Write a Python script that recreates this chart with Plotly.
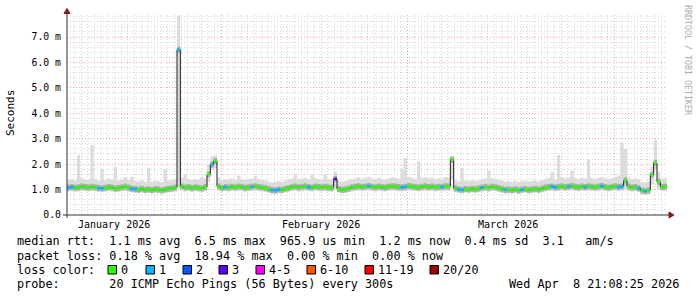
import plotly.graph_objects as go
from datetime import datetime, timedelta

# ---------------- data ----------------
START = datetime(2026, 1, 8, 21, 8, 25)
END = datetime(2026, 4, 8, 21, 8, 25)
STEP_HOURS = 12

median_ms = [
    1.08, 1.10, 1.07, 1.09, 1.12, 1.10, 1.08, 1.11, 1.09, 1.06,
    1.05, 1.07, 1.10, 1.08, 1.04, 1.06, 1.09, 1.12, 1.07, 1.03,
    1.02, 1.00, 1.03, 0.99, 1.01, 0.98, 1.02, 1.00, 0.97, 1.01,
    1.03, 1.05, 1.08, 6.50, 1.12, 1.08, 1.10, 1.06, 1.09, 1.07,
    1.05, 1.10, 1.60, 1.98, 2.12, 1.12, 1.06, 1.10, 1.08, 1.11,
    1.09, 1.12, 1.10, 1.07, 1.09, 1.11, 1.13, 1.10, 1.08, 1.06,
    1.02, 0.98, 0.97, 1.00, 0.99, 1.03, 1.06, 1.10, 1.12, 1.09,
    1.11, 1.13, 1.10, 1.08, 1.12, 1.10, 1.09, 1.11, 1.08, 1.07,
    1.42, 1.02, 0.99, 1.01, 1.04, 1.09, 1.11, 1.13, 1.10, 1.12,
    1.14, 1.11, 1.09, 1.12, 1.10, 1.08, 1.11, 1.13, 1.12, 1.10,
    1.09, 1.11, 1.14, 1.12, 1.10, 1.08, 1.11, 1.13, 1.10, 1.12,
    1.09, 1.11, 1.10, 1.13, 1.12, 2.18, 1.05, 1.01, 0.99, 1.02,
    1.00, 1.03, 1.01, 1.04, 1.08, 1.10, 1.07, 1.11, 1.09, 1.06,
    1.02, 0.99, 1.00, 0.98, 1.01, 0.97, 1.00, 1.02, 0.99, 1.01,
    1.03, 1.00, 1.04, 1.08, 1.10, 1.12, 1.09, 1.11, 1.13, 1.10,
    1.12, 1.14, 1.11, 1.09, 1.12, 1.10, 1.13, 1.11, 1.09, 1.12,
    1.14, 1.10, 1.08, 1.11, 1.13, 1.10, 1.12, 1.36, 1.12, 1.08,
    1.10, 1.06, 0.96, 0.94, 0.97, 1.58, 2.05, 1.30, 1.10, 1.12,
]

# loss colour level per step (index into loss_colors)
loss_level = [
    1, 1, 0, 0, 0, 0, 0, 0, 0, 1,
    1, 0, 0, 0, 0, 0, 0, 0, 0, 1,
    1, 0, 0, 0, 0, 0, 0, 0, 0, 0,
    0, 0, 0, 1, 0, 0, 0, 0, 0, 0,
    0, 0, 0, 1, 0, 0, 0, 1, 0, 0,
    0, 0, 0, 0, 0, 1, 0, 0, 0, 0,
    0, 1, 1, 1, 0, 0, 0, 0, 0, 0,
    0, 0, 1, 0, 0, 0, 0, 0, 0, 0,
    3, 0, 0, 0, 0, 0, 0, 0, 0, 0,
    1, 0, 0, 0, 0, 0, 0, 0, 0, 0,
    1, 1, 0, 0, 0, 0, 0, 0, 0, 0,
    0, 0, 1, 0, 0, 0, 0, 1, 1, 0,
    0, 0, 0, 0, 1, 0, 0, 0, 0, 0,
    0, 1, 0, 0, 0, 0, 1, 0, 0, 0,
    0, 0, 0, 0, 0, 1, 1, 0, 0, 0,
    1, 0, 0, 0, 0, 1, 0, 0, 0, 0,
    1, 0, 0, 0, 0, 1, 1, 0, 0, 0,
    0, 1, 0, 1, 0, 0, 0, 0, 0, 0,
]

smoke_min_ms = [
    0.92, 0.93, 0.91, 0.92, 0.94, 0.93, 0.92, 0.94, 0.92, 0.90,
    0.90, 0.91, 0.93, 0.92, 0.89, 0.90, 0.92, 0.94, 0.91, 0.88,
    0.87, 0.86, 0.88, 0.85, 0.87, 0.85, 0.87, 0.86, 0.84, 0.87,
    0.88, 0.90, 0.92, 1.05, 0.95, 0.92, 0.93, 0.90, 0.92, 0.91,
    0.90, 0.93, 1.30, 1.75, 1.85, 0.95, 0.91, 0.93, 0.92, 0.94,
    0.93, 0.95, 0.93, 0.91, 0.93, 0.94, 0.95, 0.93, 0.92, 0.90,
    0.87, 0.84, 0.83, 0.86, 0.85, 0.88, 0.90, 0.93, 0.95, 0.92,
    0.94, 0.95, 0.93, 0.92, 0.95, 0.93, 0.92, 0.94, 0.92, 0.91,
    1.00, 0.88, 0.85, 0.87, 0.89, 0.92, 0.94, 0.95, 0.93, 0.95,
    0.96, 0.94, 0.92, 0.95, 0.93, 0.92, 0.94, 0.95, 0.95, 0.93,
    0.92, 0.94, 0.96, 0.95, 0.93, 0.92, 0.94, 0.95, 0.93, 0.95,
    0.92, 0.94, 0.93, 0.95, 0.95, 1.40, 0.90, 0.87, 0.85, 0.88,
    0.86, 0.89, 0.87, 0.89, 0.92, 0.94, 0.91, 0.94, 0.93, 0.90,
    0.87, 0.85, 0.86, 0.84, 0.87, 0.83, 0.86, 0.88, 0.85, 0.87,
    0.88, 0.86, 0.89, 0.92, 0.94, 0.95, 0.93, 0.94, 0.96, 0.94,
    0.95, 0.96, 0.94, 0.93, 0.95, 0.94, 0.96, 0.94, 0.93, 0.95,
    0.96, 0.94, 0.92, 0.94, 0.96, 0.93, 0.95, 1.00, 0.95, 0.92,
    0.93, 0.90, 0.82, 0.80, 0.83, 1.20, 1.75, 1.00, 0.93, 0.95,
]

smoke_max_ms = [
    1.38, 1.42, 1.36, 2.35, 1.45, 1.40, 1.38, 2.75, 1.42, 1.36,
    1.80, 1.38, 1.44, 1.40, 1.90, 1.36, 1.42, 1.48, 1.38, 1.50,
    1.34, 1.32, 1.36, 1.30, 1.85, 1.31, 1.35, 1.33, 1.30, 1.80,
    1.36, 1.38, 1.42, 7.85, 1.48, 1.60, 1.42, 1.38, 1.41, 1.39,
    1.50, 1.44, 2.00, 2.30, 2.35, 1.46, 1.38, 1.42, 1.40, 1.44,
    1.40, 1.55, 1.42, 1.38, 1.41, 1.43, 1.52, 1.42, 1.39, 1.36,
    1.32, 1.28, 1.30, 1.33, 1.31, 1.36, 1.40, 1.44, 1.62, 1.41,
    1.43, 1.46, 1.42, 1.58, 1.45, 1.42, 1.41, 1.60, 1.40, 1.39,
    1.70, 1.34, 1.31, 1.33, 1.38, 1.42, 1.45, 1.48, 1.43, 1.46,
    1.50, 1.44, 1.42, 1.46, 1.43, 1.40, 1.44, 1.47, 1.46, 1.43,
    1.80, 2.25, 1.50, 1.46, 1.43, 2.10, 1.46, 1.48, 1.44, 1.47,
    1.42, 1.45, 1.43, 1.48, 1.46, 2.30, 1.38, 1.34, 1.85, 1.36,
    1.33, 1.37, 1.34, 1.36, 1.40, 1.44, 1.74, 1.45, 1.43, 1.39,
    1.35, 1.32, 1.33, 1.31, 1.34, 1.30, 1.33, 1.35, 1.32, 1.34,
    1.36, 1.33, 1.38, 1.42, 1.45, 1.70, 1.42, 2.36, 1.48, 1.44,
    1.46, 1.75, 1.45, 1.42, 1.46, 1.44, 2.16, 1.45, 1.42, 1.46,
    1.48, 1.44, 1.42, 1.45, 1.50, 1.55, 2.85, 2.60, 1.46, 1.42,
    1.44, 1.40, 1.30, 1.28, 1.32, 1.90, 2.95, 1.70, 1.44, 1.46,
]

y_tick_vals = [0, 1, 2, 3, 4, 5, 6, 7]
y_tick_text = ["0.0", "1.0 m", "2.0 m", "3.0 m", "4.0 m", "5.0 m", "6.0 m", "7.0 m"]
month_labels = ["January 2026", "February 2026", "March 2026"]
month_label_dates = ["2026-01-16", "2026-02-16", "2026-03-16"]

loss_names = ["0", "1", "2", "3", "4-5", "6-10", "11-19", "20/20"]
loss_colors = ["#26ff00", "#00b8ff", "#0059ff", "#5e00ff", "#ff00ff", "#ff5500", "#ff0000", "#a00000"]

stats_line = "median rtt:  1.1 ms avg  6.5 ms max  965.9 us min  1.2 ms now  0.4 ms sd  3.1   am/s"
loss_line = "packet loss: 0.18 % avg  18.94 % max  0.00 % min  0.00 % now"
probe_line = "probe:       20 ICMP Echo Pings (56 Bytes) every 300s"
stamp_text = "Wed Apr  8 21:08:25 2026"

# ---------------- geometry helpers ----------------
W, H = 697, 297
L, R, T, B = 67, 667, 15, 215
Y_MAX = 7.865
FONT = "DejaVu Sans Mono"


def px(x):
    return (x - L) / (R - L)


def py(y):
    return (B - y) / (B - T)


def nb(s):
    return s.replace(" ", "\u00a0")


N = len(median_ms)
edges = [START + timedelta(hours=STEP_HOURS * i) for i in range(N + 1)]
med_step = median_ms + [median_ms[-1]]
lo_step = smoke_min_ms + [smoke_min_ms[-1]]
hi_step = smoke_max_ms + [smoke_max_ms[-1]]


def horizontal_segments(values, mask=None):
    xs, ys = [], []
    for i in range(N):
        if mask is None or mask[i]:
            xs += [edges[i], edges[i + 1], None]
            ys += [values[i], values[i], None]
    return xs, ys


fig = go.Figure()

# smoke (min..max)
fig.add_trace(go.Scatter(x=edges, y=lo_step, mode="lines", line=dict(width=0, shape="hv"),
                         hoverinfo="skip", showlegend=False))
fig.add_trace(go.Scatter(x=edges, y=hi_step, mode="lines", line=dict(width=0, shape="hv"),
                         fill="tonexty", fillcolor="#dcdcdc", hoverinfo="skip", showlegend=False))
# dense smoke core (horizontal only)
cx, cy = horizontal_segments(median_ms)
fig.add_trace(go.Scatter(x=cx, y=cy, mode="lines", line=dict(width=6, color="#ababab"),
                         hoverinfo="skip", showlegend=False))
# thin dark median
fig.add_trace(go.Scatter(x=edges, y=med_step, mode="lines",
                         line=dict(width=1, color="#202020", shape="hv"),
                         hoverinfo="skip", showlegend=False))
# coloured median by loss
for lvl, col in enumerate(loss_colors):
    xs, ys = horizontal_segments(median_ms, [lv == lvl for lv in loss_level])
    if xs:
        fig.add_trace(go.Scatter(x=xs, y=ys, mode="lines", line=dict(width=2.5, color=col),
                                 hoverinfo="skip", showlegend=False))

minor_grid = "#d6d6d6"
major_grid = "#f0a8a8"

fig.update_xaxes(
    type="date", range=[START, END], showticklabels=False, ticks="",
    showgrid=True, dtick="M1", tick0="2026-01-01", gridcolor=major_grid,
    griddash="1px,2px", gridwidth=1, zeroline=False, showline=False,
    minor=dict(dtick=86400000, tick0="2026-01-01", showgrid=True,
               gridcolor=minor_grid, griddash="1px,2px", gridwidth=1),
)
fig.update_yaxes(
    range=[0, Y_MAX], tickvals=y_tick_vals, ticktext=y_tick_text, ticks="",
    tickfont=dict(family=FONT, size=9.8, color="#000000"), ticklabelstandoff=5,
    showgrid=True, gridcolor=major_grid, griddash="1px,2px", gridwidth=1,
    zeroline=False, showline=False,
    minor=dict(dtick=0.2, showgrid=True, gridcolor=minor_grid, griddash="1px,2px", gridwidth=1),
)

shapes = []
axis_col = "#303030"
arrow_col = "#8b1a1a"
shapes.append(dict(type="line", xref="paper", yref="paper", x0=px(L), x1=px(L), y0=py(218), y1=py(12),
                   line=dict(color=axis_col, width=1)))
shapes.append(dict(type="line", xref="paper", yref="paper", x0=px(63), x1=px(670), y0=py(B), y1=py(B),
                   line=dict(color=axis_col, width=1)))
shapes.append(dict(type="path", xref="paper", yref="paper",
                   path=f"M {px(64)} {py(13.5)} L {px(70)} {py(13.5)} L {px(67)} {py(8.5)} Z",
                   fillcolor=arrow_col, line=dict(color=arrow_col, width=1)))
shapes.append(dict(type="path", xref="paper", yref="paper",
                   path=f"M {px(669)} {py(212)} L {px(669)} {py(218)} L {px(674)} {py(215)} Z",
                   fillcolor=arrow_col, line=dict(color=arrow_col, width=1)))

annotations = []
for lab, d in zip(month_labels, month_label_dates):
    annotations.append(dict(x=d, xref="x", y=py(224.5), yref="paper", text=nb(lab), showarrow=False,
                            xanchor="center", yanchor="middle",
                            font=dict(family=FONT, size=10, color="#000000")))
annotations.append(dict(x=px(10), xref="paper", y=py(113), yref="paper", text="Seconds", showarrow=False,
                        textangle=-90, xanchor="center", yanchor="middle",
                        font=dict(family=FONT, size=11, color="#000000")))
annotations.append(dict(x=px(688), xref="paper", y=py(60), yref="paper", text=nb("RRDTOOL / TOBI OETIKER"),
                        showarrow=False, textangle=90, xanchor="center", yanchor="middle",
                        font=dict(family=FONT, size=8.3, color="#ababab")))

LEG_FONT = dict(family=FONT, size=11.8, color="#000000")
for txt, yy in [(stats_line, 241), (loss_line, 255.5), ("loss color:", 270), (probe_line, 284)]:
    annotations.append(dict(x=px(15), xref="paper", y=py(yy), yref="paper", text=nb(txt), showarrow=False,
                            xanchor="left", yanchor="middle", font=LEG_FONT))
annotations.append(dict(x=px(681), xref="paper", y=py(284), yref="paper", text=nb(stamp_text), showarrow=False,
                        xanchor="right", yanchor="middle", font=LEG_FONT))

box_x = [108, 146, 183, 219, 256, 307, 365, 430]
for bx, name, col in zip(box_x, loss_names, loss_colors):
    shapes.append(dict(type="rect", xref="paper", yref="paper", x0=px(bx), x1=px(bx + 8.5),
                       y0=py(274), y1=py(265.5), fillcolor=col, line=dict(color="#000000", width=1)))
    annotations.append(dict(x=px(bx + 11), xref="paper", y=py(270), yref="paper", text=nb(name),
                            showarrow=False, xanchor="left", yanchor="middle", font=LEG_FONT))

fig.update_layout(
    width=W, height=H, margin=dict(l=L, r=W - R, t=T, b=H - B),
    paper_bgcolor="#ffffff", plot_bgcolor="#ffffff",
    shapes=shapes, annotations=annotations, showlegend=False,
)

fig.write_html("out.html", config={"displayModeBar": False})
